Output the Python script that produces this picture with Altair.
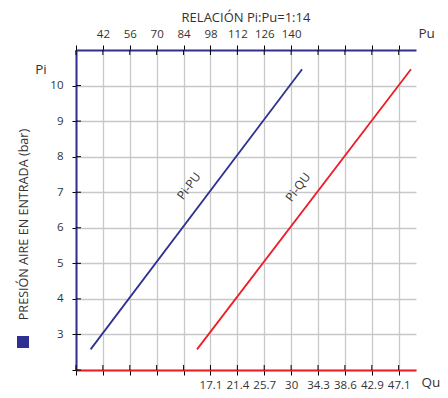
import altair as alt
import pandas as pd

# ---- data ----
pi_vals = [2.58, 10.46]          # Pi (bar) at start / end of both lines
pu_vals = [35.6, 145.7]          # Pu along the Pi-PU line
qu_vals = [15.0, 49.1]           # Qu along the Pi-QU line

pu_ticks = [28, 42, 56, 70, 84, 98, 112, 126, 140, 154, 168, 182, 196]
qu_ticks = [-4.29, 0, 4.29, 8.57, 12.86, 17.14, 21.43, 25.71, 30, 34.29, 38.57, 42.86, 47.14]
pi_ticks = [2, 3, 4, 5, 6, 7, 8, 9, 10]

line_labels_pu = pd.DataFrame({"pu": [86.8], "pi": [7.17], "label": ["Pi-PU"]})
line_labels_qu = pd.DataFrame({"qu": [31.1], "pi": [7.14], "label": ["Pi-QU"]})

BLUE = "#2e3192"
RED = "#ee1c25"
TXT = "#333333"
GRID = "#c8c8c8"
FONT = "Open Sans"
H = 320

blue_df = pd.DataFrame({"pu": pu_vals, "pi": pi_vals})
red_df = pd.DataFrame({"qu": qu_vals, "pi": pi_vals})
pu_tick_df = pd.DataFrame({"pu": pu_ticks})
qu_tick_df = pd.DataFrame({"qu": qu_ticks})
pi_tick_df = pd.DataFrame({"pi": pi_ticks})

y_scale = alt.Scale(domain=[2, 11], nice=False, zero=False)
pu_scale = alt.Scale(domain=[28, 205], nice=False, zero=False)
qu_scale = alt.Scale(domain=[-4.29, 49.9], nice=False, zero=False)

y_enc = alt.Y(
    "pi:Q",
    scale=y_scale,
    axis=alt.Axis(
        values=pi_ticks,
        labelExpr="datum.value < 3 ? '' : datum.label",
        title="PRESIÓN AIRE EN ENTRADA (bar)",
        titleAngle=270,
        titleX=-49,
        titleY=174,
        titleAlign="center",
        titleBaseline="alphabetic",
        titleFontSize=12.6,
        titleFontWeight="normal",
        domainColor=BLUE,
        domainWidth=2,
        tickColor="#000000",
        tickSize=4,
        labelPadding=9,
        labelFontSize=11.5,
        grid=True,
        gridColor=GRID,
        gridWidth=1.3,
    ),
)

x_pu = alt.X(
    "pu:Q",
    scale=pu_scale,
    axis=alt.Axis(
        orient="top",
        values=pu_ticks,
        labelExpr="datum.value >= 42 && datum.value <= 140 ? datum.label : ''",
        labelFlush=False,
        labelOverlap=False,
        labelFontSize=11.5,
        labelPadding=6,
        title="Pu",
        titleX=342,
        titleY=-13,
        titleAlign="left",
        titleBaseline="alphabetic",
        titleFontSize=13.5,
        titleFontWeight="normal",
        domainColor=BLUE,
        domainWidth=2,
        tickColor="#000000",
        tickSize=5,
        grid=True,
        gridColor=GRID,
        gridWidth=1.3,
    ),
)

x_qu = alt.X(
    "qu:Q",
    scale=qu_scale,
    axis=alt.Axis(
        orient="bottom",
        values=qu_ticks,
        labelExpr="datum.value > 17 ? format(datum.value, '.3~r') : ''",
        labelFlush=False,
        labelOverlap=False,
        labelFontSize=11.5,
        labelPadding=4,
        title="Qu",
        titleX=345,
        titleY=16,
        titleAlign="left",
        titleBaseline="alphabetic",
        titleFontSize=13.5,
        titleFontWeight="normal",
        domainColor=RED,
        domainWidth=2,
        tickColor="#000000",
        tickSize=5,
        grid=False,
    ),
)

blue_line = alt.Chart(blue_df).mark_line(color=BLUE, strokeWidth=1.8).encode(x=x_pu, y=y_enc)
blue_text = alt.Chart(line_labels_pu).mark_text(
    angle=307, fontSize=12, color=TXT, font=FONT
).encode(x=x_pu, y=y_enc, text="label:N")

# inward halves of the tick marks (ticks cross the axis lines)
top_ticks_in = alt.Chart(pu_tick_df).mark_rule(color="#000000", strokeWidth=1).encode(
    x=x_pu, y=alt.value(0), y2=alt.value(5)
)
left_ticks_in = alt.Chart(pi_tick_df).mark_rule(color="#000000", strokeWidth=1).encode(
    y=y_enc, x=alt.value(0), x2=alt.value(5)
)

pi_lbl = alt.Chart(alt.Data(values=[{}])).mark_text(
    fontSize=13.5, color=TXT, font=FONT, align="center", baseline="alphabetic"
).encode(x=alt.value(-35), y=alt.value(24), text=alt.value("Pi"))

legend_sq = alt.Chart(alt.Data(values=[{}])).mark_point(
    shape="square", filled=True, size=144, color=BLUE, opacity=1
).encode(x=alt.value(-53), y=alt.value(292))

red_line = alt.Chart(red_df).mark_line(color=RED, strokeWidth=1.8).encode(x=x_qu, y=y_enc)
red_text = alt.Chart(line_labels_qu).mark_text(
    angle=307, fontSize=12, color=TXT, font=FONT
).encode(x=x_qu, y=y_enc, text="label:N")
bottom_ticks_in = alt.Chart(qu_tick_df).mark_rule(color="#000000", strokeWidth=1).encode(
    x=x_qu, y=alt.value(H - 5), y2=alt.value(H)
)

chart = (
    alt.layer(
        alt.layer(blue_line, blue_text, top_ticks_in, left_ticks_in, pi_lbl, legend_sq),
        alt.layer(red_line, red_text, bottom_ticks_in),
    )
    .resolve_scale(x="independent")
    .properties(
        width=340,
        height=H,
        autosize=alt.AutoSizeParams(type="none"),
        padding={"left": 68, "top": 42, "right": 24, "bottom": 20},
        title=alt.TitleParams(
            "RELACIÓN Pi:Pu=1:14",
            fontSize=13,
            fontWeight="normal",
            color=TXT,
            font=FONT,
            anchor="middle",
            offset=1,
        ),
    )
    .configure_view(stroke=None)
    .configure_axis(labelColor=TXT, titleColor=TXT, labelFont=FONT, titleFont=FONT)
)

chart.save("out.html", embed_options={"renderer": "svg", "actions": False})
